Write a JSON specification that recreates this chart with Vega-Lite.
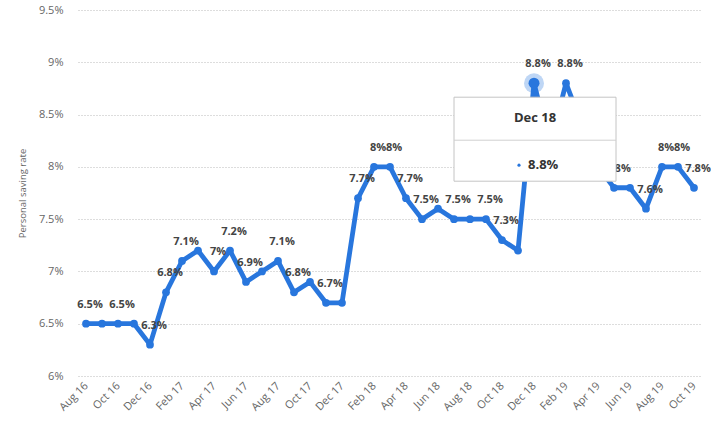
{
  "$schema": "https://vega.github.io/schema/vega-lite/v6.json",
  "width": 624,
  "height": 366,
  "autosize": "none",
  "padding": {"left": 78, "top": 10, "right": 9, "bottom": 56},
  "background": "white",
  "config": {
    "view": {"stroke": null},
    "font": "Open Sans",
    "axis": {"labelFont": "Open Sans", "titleFont": "Open Sans"}
  },
  "datasets": {
    "saving": [
      {"month": "Aug 16", "value": 0.065, "show": true},
      {"month": "Sep 16", "value": 0.065, "show": false},
      {"month": "Oct 16", "value": 0.065, "show": true},
      {"month": "Nov 16", "value": 0.065, "show": false},
      {"month": "Dec 16", "value": 0.063, "show": true},
      {"month": "Jan 17", "value": 0.068, "show": true},
      {"month": "Feb 17", "value": 0.071, "show": true},
      {"month": "Mar 17", "value": 0.072, "show": false},
      {"month": "Apr 17", "value": 0.070, "show": true},
      {"month": "May 17", "value": 0.072, "show": true},
      {"month": "Jun 17", "value": 0.069, "show": true},
      {"month": "Jul 17", "value": 0.070, "show": false},
      {"month": "Aug 17", "value": 0.071, "show": true},
      {"month": "Sep 17", "value": 0.068, "show": true},
      {"month": "Oct 17", "value": 0.069, "show": false},
      {"month": "Nov 17", "value": 0.067, "show": true},
      {"month": "Dec 17", "value": 0.067, "show": false},
      {"month": "Jan 18", "value": 0.077, "show": true},
      {"month": "Feb 18", "value": 0.080, "show": true},
      {"month": "Mar 18", "value": 0.080, "show": true},
      {"month": "Apr 18", "value": 0.077, "show": true},
      {"month": "May 18", "value": 0.075, "show": true},
      {"month": "Jun 18", "value": 0.076, "show": false},
      {"month": "Jul 18", "value": 0.075, "show": true},
      {"month": "Aug 18", "value": 0.075, "show": false},
      {"month": "Sep 18", "value": 0.075, "show": true},
      {"month": "Oct 18", "value": 0.073, "show": true},
      {"month": "Nov 18", "value": 0.072, "show": false},
      {"month": "Dec 18", "value": 0.088, "show": true},
      {"month": "Jan 19", "value": 0.082, "show": false},
      {"month": "Feb 19", "value": 0.088, "show": true},
      {"month": "Mar 19", "value": 0.084, "show": false},
      {"month": "Apr 19", "value": 0.080, "show": false},
      {"month": "May 19", "value": 0.078, "show": true},
      {"month": "Jun 19", "value": 0.078, "show": false},
      {"month": "Jul 19", "value": 0.076, "show": true},
      {"month": "Aug 19", "value": 0.080, "show": true},
      {"month": "Sep 19", "value": 0.080, "show": true},
      {"month": "Oct 19", "value": 0.078, "show": true}
    ],
    "bands": [
      {"start": "Aug 16", "end": "Oct 16"},
      {"start": "Dec 16", "end": "Feb 17"},
      {"start": "Apr 17", "end": "Jun 17"},
      {"start": "Aug 17", "end": "Oct 17"},
      {"start": "Dec 17", "end": "Feb 18"},
      {"start": "Apr 18", "end": "Jun 18"},
      {"start": "Aug 18", "end": "Oct 18"},
      {"start": "Dec 18", "end": "Feb 19"},
      {"start": "Apr 19", "end": "Jun 19"},
      {"start": "Aug 19", "end": "Oct 19"}
    ]
  },
  "encoding": {
    "x": {
      "field": "month",
      "type": "ordinal",
      "sort": null,
      "scale": {
        "type": "point",
        "padding": 0.5,
        "domain": ["Aug 16","Sep 16","Oct 16","Nov 16","Dec 16","Jan 17","Feb 17","Mar 17","Apr 17","May 17","Jun 17","Jul 17","Aug 17","Sep 17","Oct 17","Nov 17","Dec 17","Jan 18","Feb 18","Mar 18","Apr 18","May 18","Jun 18","Jul 18","Aug 18","Sep 18","Oct 18","Nov 18","Dec 18","Jan 19","Feb 19","Mar 19","Apr 19","May 19","Jun 19","Jul 19","Aug 19","Sep 19","Oct 19"]
      },
      "axis": {
        "title": null,
        "values": ["Aug 16","Oct 16","Dec 16","Feb 17","Apr 17","Jun 17","Aug 17","Oct 17","Dec 17","Feb 18","Apr 18","Jun 18","Aug 18","Oct 18","Dec 18","Feb 19","Apr 19","Jun 19","Aug 19","Oct 19"],
        "labelAngle": -45,
        "labelAlign": "right",
        "labelBaseline": "middle",
        "labelPadding": 8,
        "labelFontSize": 11,
        "labelColor": "#666666",
        "domain": false,
        "ticks": false,
        "grid": false
      }
    },
    "y": {
      "field": "value",
      "type": "quantitative",
      "scale": {"domain": [0.06, 0.095], "nice": false, "zero": false},
      "axis": {
        "title": "Personal saving rate",
        "titleFontSize": 9.5,
        "titleFontWeight": "normal",
        "titleColor": "#666666",
        "titlePadding": 11,
        "values": [0.06, 0.065, 0.07, 0.075, 0.08, 0.085, 0.09, 0.095],
        "format": ".1~%",
        "labelFontSize": 11,
        "labelColor": "#666666",
        "labelPadding": 15,
        "domain": false,
        "ticks": false,
        "grid": true,
        "gridColor": "#bbbbbb",
        "gridDash": [1, 2],
        "gridWidth": 1
      }
    }
  },
  "layer": [
    {
      "data": {"name": "bands"},
      "mark": {"type": "rect", "fill": "#000000", "opacity": 0.025},
      "encoding": {
        "x": {"field": "start", "type": "ordinal", "sort": null},
        "x2": {"field": "end"},
        "y": {"datum": 0.095},
        "y2": {"datum": 0.06}
      }
    },
    {
      "data": {"name": "saving"},
      "mark": {"type": "line", "color": "#2876dd", "strokeWidth": 4.8, "strokeJoin": "round", "strokeCap": "round"},
      "encoding": {}
    },
    {
      "data": {"name": "saving"},
      "mark": {"type": "point", "filled": true, "color": "#2876dd", "opacity": 1, "size": 60, "shape": "circle"},
      "encoding": {}
    },
    {
      "data": {"name": "saving"},
      "transform": [{"filter": "datum.show"}],
      "mark": {"type": "text", "dx": 4, "dy": -19, "fontSize": 11, "fontWeight": "bold", "color": "#444444", "baseline": "middle", "align": "center"},
      "encoding": {"text": {"field": "value", "type": "quantitative", "format": ".1~%"}}
    },
    {
      "data": {"name": "saving"},
      "transform": [{"filter": "datum.month === 'Dec 18'"}],
      "mark": {"type": "point", "filled": true, "color": "#2876dd", "opacity": 0.3, "size": 400, "shape": "circle"},
      "encoding": {}
    },
    {
      "data": {"name": "saving"},
      "transform": [{"filter": "datum.month === 'Dec 18'"}],
      "mark": {"type": "point", "filled": true, "color": "#2876dd", "opacity": 1, "size": 120, "shape": "circle"},
      "encoding": {}
    },
    {
      "data": {"name": "saving"},
      "transform": [{"filter": "datum.month === 'Dec 18'"}],
      "mark": {"type": "point", "shape": "M-1,-0.5185H1V0.5185H-1Z", "size": 26244, "filled": true, "fill": "#ffffff", "stroke": "#c4c4c4", "strokeWidth": 1, "opacity": 1, "xOffset": 1, "yOffset": 56},
      "encoding": {}
    },
    {
      "data": {"name": "saving"},
      "transform": [{"filter": "datum.month === 'Dec 18'"}],
      "mark": {"type": "point", "shape": "M-1,0H1", "size": 26244, "filled": false, "stroke": "#d0d0d0", "strokeWidth": 1, "opacity": 1, "xOffset": 1, "yOffset": 57},
      "encoding": {}
    },
    {
      "data": {"name": "saving"},
      "transform": [{"filter": "datum.month === 'Dec 18'"}],
      "mark": {"type": "text", "dx": 1, "dy": 35, "fontSize": 13, "fontWeight": "bold", "color": "#333333", "baseline": "middle", "align": "center"},
      "encoding": {"text": {"field": "month", "type": "nominal"}}
    },
    {
      "data": {"name": "saving"},
      "transform": [{"filter": "datum.month === 'Dec 18'"}],
      "mark": {"type": "point", "filled": true, "color": "#2876dd", "opacity": 1, "size": 10, "shape": "circle", "xOffset": -15, "yOffset": 82},
      "encoding": {}
    },
    {
      "data": {"name": "saving"},
      "transform": [{"filter": "datum.month === 'Dec 18'"}],
      "mark": {"type": "text", "dx": -6, "dy": 82, "fontSize": 13, "fontWeight": "bold", "color": "#333333", "baseline": "middle", "align": "left"},
      "encoding": {"text": {"field": "value", "type": "quantitative", "format": ".1~%"}}
    }
  ]
}
